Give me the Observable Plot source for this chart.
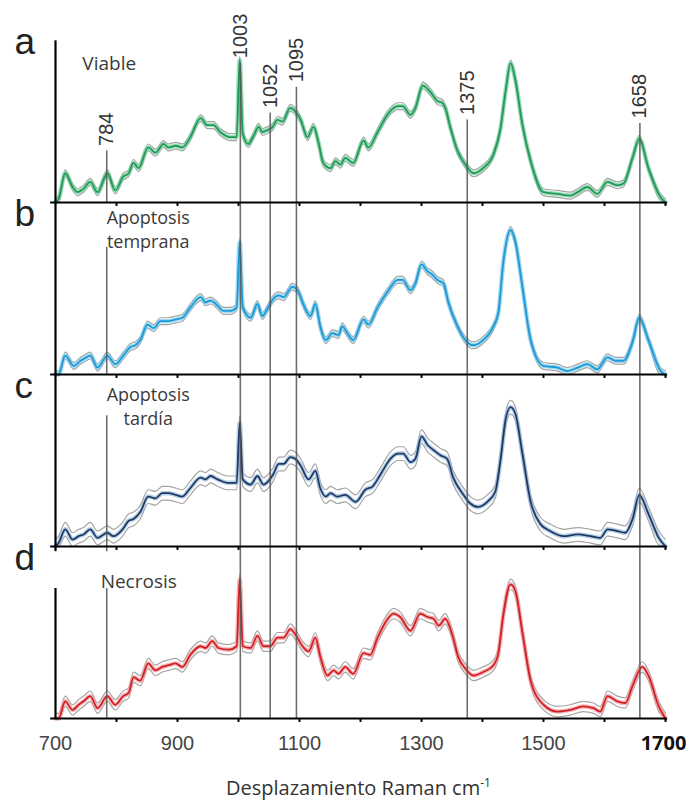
<!DOCTYPE html>
<html>
<head>
<meta charset="utf-8">
<script src="https://cdn.jsdelivr.net/npm/d3@7"></script>
<script src="https://cdn.jsdelivr.net/npm/@observablehq/plot@0.6"></script>
<style>
  body { margin: 0; background: #fff; }
  #chart svg { display: block; }
  #xtitle {
    width: 686px; height: 33px; margin: 0;
    font-family: "Open Sans", sans-serif; font-size: 20px; color: #333;
    position: relative;
  }
  #xtitle span { position: absolute; left: 226px; top: 4px; white-space: nowrap; }
  #xtitle sup { font-size: 12px; }
</style>
</head>
<body>
<div id="chart"></div>
<div id="xtitle"><span>Desplazamiento Raman cm<sup>-1</sup></span></div>
<script>
// Mean Raman spectra (wavenumber cm-1, intensity a.u.) for each cell state
const panels = ["a", "b", "c", "d"];
const panelNames = ["Viable", "Apoptosis\ntemprana", "Apoptosis\ntardía", "Necrosis"];

const spectrumViable = [
  [700,0],[705,2],[716,17],[728,9],[736,6],[746,8],[757,12],[769,6],[785,17],[798,7],
  [811,15],[820,17],[828,23],[836,20],[852,32],[864,29],[877,34],[885,32],[897,33],[908,32],
  [921,38],[938,49],[949,45],[959,45],[970,41],[987,38],[997,38],[1002,83],[1007,40],[1016,34],
  [1025,39],[1033,44],[1039,41],[1047,42],[1056,44],[1064,48],[1072,47],[1085,55],[1093,53],[1102,48],
  [1113,38],[1123,44],[1131,35],[1139,23],[1151,20],[1159,24],[1167,22],[1175,26],[1188,23],[1205,36],
  [1213,32],[1228,41],[1246,52],[1261,56],[1269,56],[1282,51],[1290,55],[1302,68],[1315,64],[1326,59],
  [1334,58],[1339,55],[1347,44],[1359,30],[1372,22],[1385,17],[1401,20],[1418,28],[1429,42],[1438,65],
  [1446,81],[1454,71],[1465,46],[1479,24],[1500,6],[1523,5],[1544,4],[1556,6],[1572,9],[1588,5],
  [1605,12],[1621,10],[1631,11],[1646,26],[1657,37],[1672,20],[1692,3],[1700,0]
];

const spectrumTemprana = [
  [700,0],[705,0],[716,11],[730,5],[741,8],[746,9],[757,11],[769,4],[785,11],[798,6],
  [811,11],[823,16],[831,17],[839,20],[851,29],[861,27],[872,31],[884,31],[897,32],[908,33],
  [921,39],[938,45],[946,42],[954,43],[966,40],[975,37],[987,37],[997,39],[1002,77],[1007,39],
  [1020,33],[1031,41],[1039,34],[1047,38],[1057,44],[1066,46],[1074,45],[1088,51],[1097,49],[1106,41],
  [1118,34],[1126,41],[1134,28],[1143,20],[1154,24],[1164,23],[1170,28],[1180,23],[1188,20],[1205,32],
  [1213,29],[1228,39],[1246,49],[1261,55],[1269,55],[1282,49],[1290,53],[1300,64],[1310,60],[1318,58],
  [1326,55],[1336,53],[1344,42],[1359,28],[1372,20],[1385,17],[1401,20],[1418,28],[1426,36],[1434,65],
  [1446,84],[1454,77],[1465,52],[1479,20],[1500,5],[1523,4],[1539,2],[1556,4],[1572,6],[1588,3],
  [1605,10],[1618,8],[1631,8],[1646,19],[1657,33],[1672,20],[1692,2],[1700,0]
];

const spectrumTardia = [
  [700,0],[705,2],[716,10],[728,4],[738,6],[746,7],[757,10],[769,5],[785,8],[795,6],
  [810,10],[820,15],[828,16],[839,20],[852,29],[864,28],[875,31],[885,31],[897,30],[908,29],
  [921,34],[938,40],[946,39],[954,41],[966,39],[982,37],[997,37],[1002,72],[1007,39],[1020,36],
  [1031,41],[1041,36],[1049,38],[1057,42],[1066,48],[1074,48],[1085,52],[1093,51],[1102,47],[1115,39],
  [1126,44],[1134,34],[1143,29],[1151,31],[1162,29],[1175,30],[1192,26],[1208,33],[1220,35],[1233,42],
  [1249,51],[1262,54],[1270,54],[1282,49],[1290,51],[1300,64],[1310,59],[1320,56],[1331,53],[1342,51],
  [1352,40],[1367,31],[1380,25],[1392,23],[1408,26],[1421,32],[1429,49],[1438,74],[1446,81],[1454,77],
  [1465,55],[1479,26],[1495,13],[1511,9],[1533,6],[1556,7],[1577,6],[1593,5],[1605,10],[1621,9],
  [1634,8],[1646,16],[1657,30],[1672,19],[1689,5],[1700,0]
];

const spectrumNecrosis = [
  [700,0],[705,0],[716,10],[728,5],[738,8],[746,10],[757,13],[769,6],[785,13],[798,8],
  [811,13],[820,15],[828,24],[839,22],[852,32],[864,28],[875,30],[885,31],[897,32],[908,30],
  [921,37],[938,42],[946,41],[957,45],[967,41],[984,40],[997,42],[1002,81],[1007,42],[1020,41],
  [1031,48],[1041,42],[1052,42],[1064,47],[1074,47],[1085,52],[1093,49],[1105,42],[1115,39],[1126,47],
  [1134,36],[1146,25],[1156,28],[1164,26],[1175,30],[1188,26],[1205,38],[1216,37],[1228,47],[1241,56],
  [1254,61],[1265,59],[1282,51],[1298,61],[1310,59],[1320,58],[1328,54],[1339,58],[1351,48],[1360,36],
  [1372,29],[1385,25],[1401,27],[1418,31],[1426,38],[1434,60],[1446,78],[1454,74],[1465,51],[1479,22],
  [1500,8],[1523,4],[1544,5],[1565,7],[1582,6],[1593,4],[1605,13],[1621,10],[1634,9],[1646,19],
  [1662,30],[1672,25],[1689,7],[1700,0]
];

// standard deviation around each mean spectrum (a.u.)
const spreadSD = [2, 2, 4, 3];

// assigned Raman bands and the height each marker line reaches per panel
const markerWn = [784, 1003, 1052, 1095, 1375, 1658];
const markerTop = [
  [30, 81, 52, 67, 48, 46],
  [74, 100, 100, 100, 100, 100],
  [76, 100, 100, 100, 100, 100],
  [100, 100, 100, 100, 100, 100]
];

const tickLabels = [700, 900, 1100, 1300, 1500];
const tickLabelEnd = [1700];
const minorTicks = [800, 900, 1000, 1100, 1200, 1300, 1400, 1500, 1600, 1700];

const meanColor = ["#22995a", "#1c9ad6", "#1f3a62", "#d21f26"];
const haloColor = ["#7fd4a3", "#86cdee", "#9dbfe0", "#f3a0a0"];

const spectra = [spectrumViable, spectrumTemprana, spectrumTardia, spectrumNecrosis];
const rows = spectra.flatMap((s, i) => s.map(([wn, v]) => ({
  panel: panels[i], wn, v,
  hi: v + spreadSD[i],
  lo: Math.max(0, v - spreadSD[i])
})));

const markerRules = panels.flatMap((p, i) =>
  markerWn.map((wn, j) => ({panel: p, wn, top: markerTop[i][j]})));

const axisTop = panels.map((p, i) => ({panel: p, top: i === 0 ? 94 : 100}));

// name placement: single-word names sit left-aligned, two-line names are centred
const nameLayout = [
  {x: 744, y: 87},
  {x: 852, y: 97},
  {x: 852, y: 94},
  {x: 774, y: 86}
];
const names = panels.map((p, i) => ({panel: p, text: panelNames[i], ...nameLayout[i]}));
const namesLeft = names.filter(d => !d.text.includes("\n"));
const namesCentred = names.filter(d => d.text.includes("\n"));

const marks = [];
panels.forEach((p, i) => {
  const sub = rows.filter(d => d.panel === p);
  marks.push(
    Plot.line(sub, {x: "wn", y: "hi", fy: "panel", stroke: "#a4a4a4", strokeWidth: 1.2, curve: "monotone-x"}),
    Plot.line(sub, {x: "wn", y: "lo", fy: "panel", stroke: "#a4a4a4", strokeWidth: 1.2, curve: "monotone-x"}),
    Plot.line(sub, {x: "wn", y: "v", fy: "panel", stroke: haloColor[i], strokeWidth: 4.5, strokeOpacity: 0.75, curve: "monotone-x"}),
    Plot.line(sub, {x: "wn", y: "v", fy: "panel", stroke: meanColor[i], strokeWidth: 1.8, curve: "monotone-x"})
  );
});

const nameStyle = {fy: "panel", text: "text", x: "x", y: "y", lineAnchor: "top", lineHeight: 1.3,
  fontSize: 18, fill: "#3a3a3a", fontFamily: "Open Sans, sans-serif"};

marks.push(
  // band markers
  Plot.ruleX(markerRules, {x: "wn", y1: 0, y2: "top", fy: "panel", stroke: "#555", strokeWidth: 1.6, strokeOpacity: 0.85}),
  // panel frames: baseline with ticks and left edge
  Plot.ruleY([0], {x1: 692, x2: 1703, stroke: "#000", strokeWidth: 2.2}),
  Plot.ruleX(minorTicks, {x: d => d, y1: 0, y2: -2.3, stroke: "#000", strokeWidth: 2}),
  Plot.ruleX(axisTop, {x: 700, y1: 0, y2: "top", fy: "panel", stroke: "#000", strokeWidth: 2.2}),
  // label box of the necrosis panel
  Plot.rect([{panel: "d"}], {x1: 696, x2: 997, y1: 75.6, y2: 97, fy: "panel", fill: "#fff"}),
  // panel letters
  Plot.text(panels, {x: 700, y: 100, fy: d => d, text: d => d, dx: -41, dy: 23,
    textAnchor: "start", lineAnchor: "bottom", fontSize: 37, fill: "#222",
    fontFamily: "Liberation Sans, Arial, sans-serif"}),
  // panel names
  Plot.text(namesLeft, {...nameStyle, fontSize: 19, textAnchor: "start"}),
  Plot.text(namesCentred, {...nameStyle, textAnchor: "middle"}),
  // band labels
  Plot.text(markerWn, {x: d => d, y: (d, j) => markerTop[0][j], fy: () => "a", text: d => String(d),
    rotate: -90, textAnchor: "start", dy: -5, fontSize: 20, fill: "#333",
    fontFamily: "Liberation Sans, Arial, sans-serif"}),
  // x tick labels
  Plot.text(tickLabels, {x: d => d, y: 0, fy: () => "d", text: d => String(d), dy: 25,
    fontSize: 20, fill: "#444", fontFamily: "Liberation Sans, Arial, sans-serif"}),
  Plot.text(tickLabelEnd, {x: d => d, y: 0, fy: () => "d", text: d => String(d), dy: 25, dx: -2,
    fontSize: 20, fontWeight: "bold", fill: "#111", fontFamily: "Open Sans, sans-serif"})
);

const chart = Plot.plot({
  width: 686,
  height: 770,
  marginTop: 30,
  marginBottom: 52,
  marginLeft: 55,
  marginRight: 21,
  x: {domain: [700, 1700], axis: null},
  y: {domain: [0, 100], axis: null},
  fy: {domain: panels, padding: 0, axis: null},
  style: {background: "#fff", overflow: "visible"},
  marks
});
document.getElementById("chart").appendChild(chart);
</script>
</body>
</html>
